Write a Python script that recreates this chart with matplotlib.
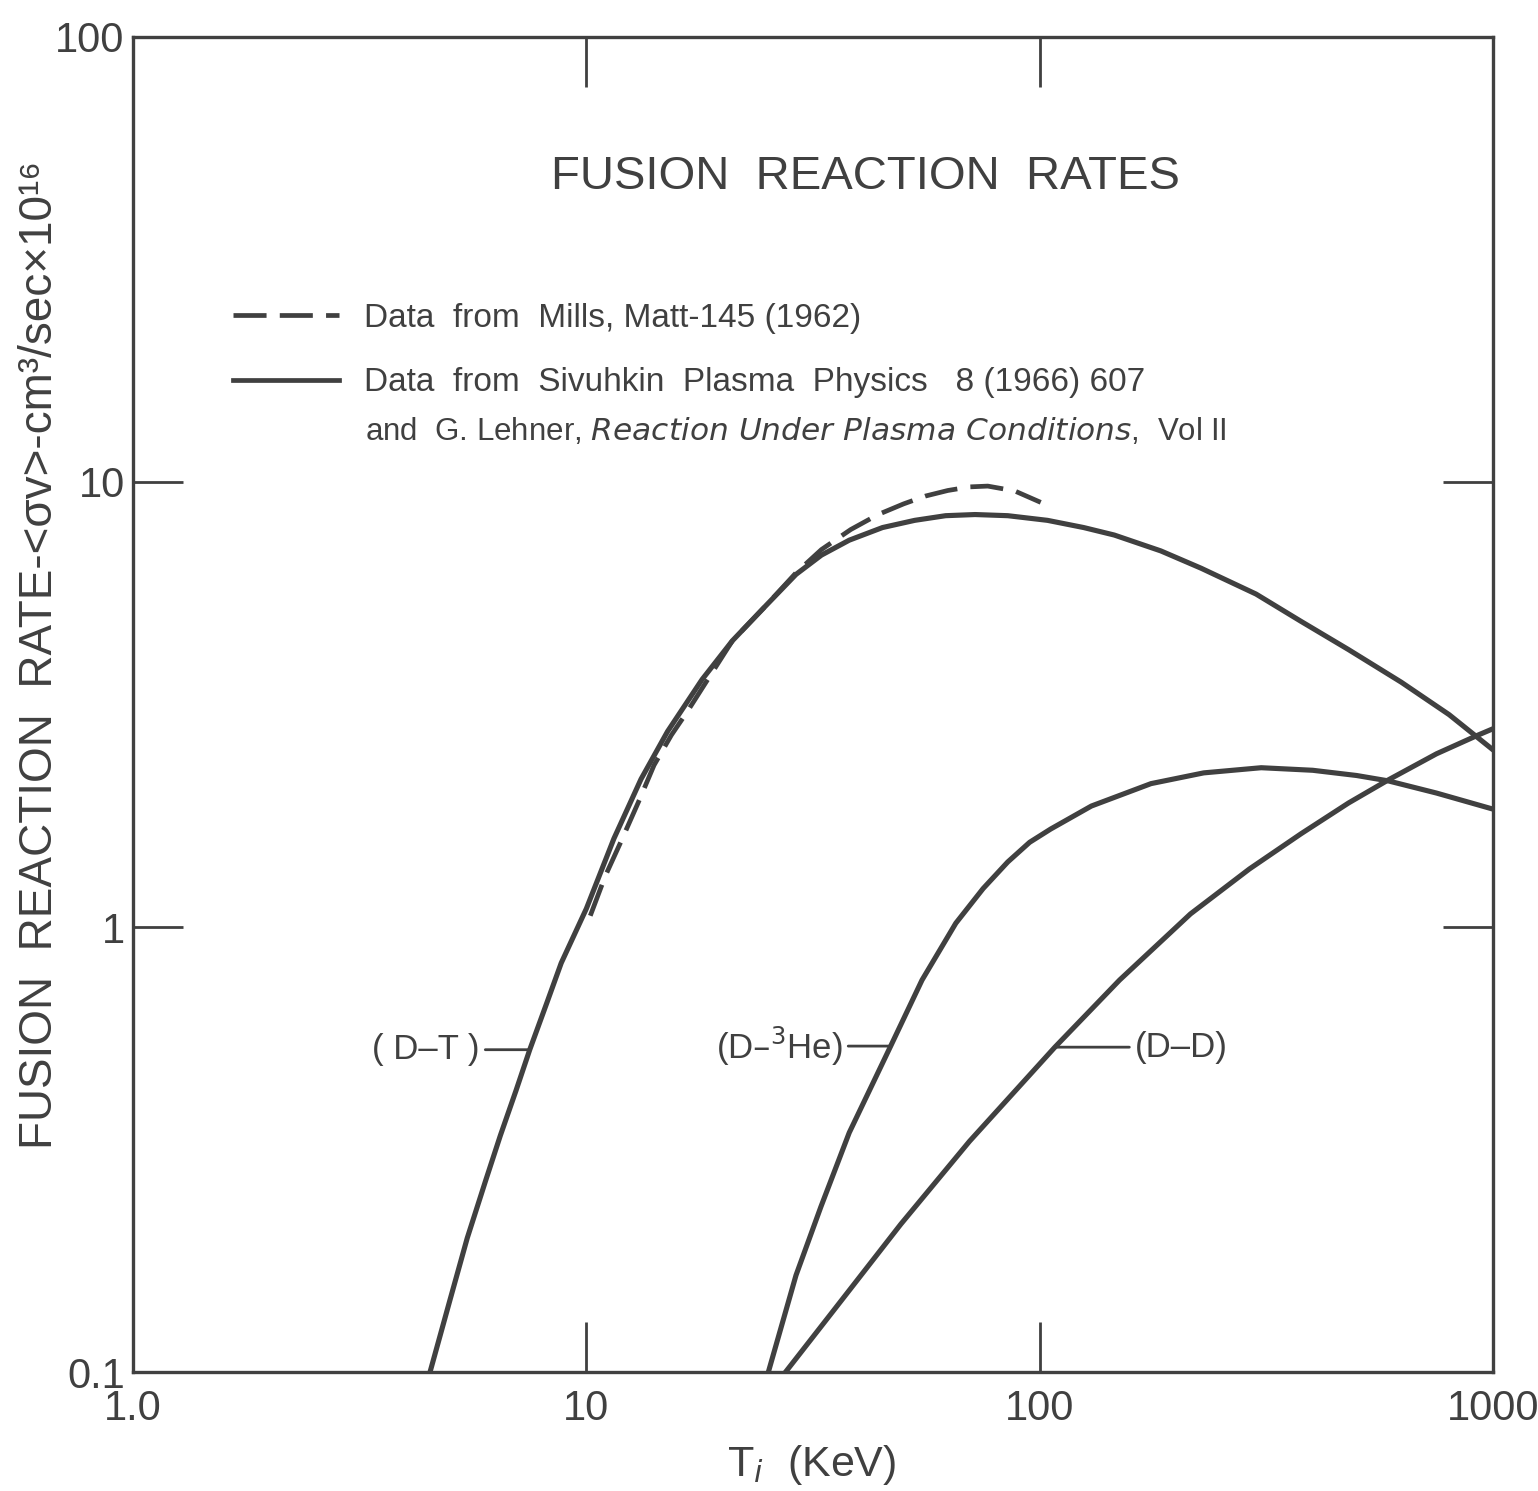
import matplotlib.pyplot as plt
from matplotlib.lines import Line2D

plt.rcParams['font.family'] = ['Liberation Sans', 'DejaVu Sans']
plt.rcParams['mathtext.fontset'] = 'dejavusans'

# Ti (keV) and <sigma v> (cm^3/sec x 10^16)
dt_t = [4.52, 5.0, 5.46, 6.0, 6.46, 7.0, 7.5, 8.2, 8.8, 10, 11.5, 13.2, 15.1, 18, 21, 25, 29, 33, 38,
        45, 53, 62, 72, 85, 104, 125, 146, 185, 227, 300, 376, 480, 627, 800, 1000]
dt_v = [0.1, 0.145, 0.2, 0.27, 0.34, 0.43, 0.53, 0.68, 0.83, 1.1, 1.58, 2.15, 2.75, 3.6, 4.4, 5.3, 6.2,
        6.85, 7.4, 7.9, 8.2, 8.4, 8.45, 8.4, 8.2, 7.9, 7.6, 7.0, 6.4, 5.6, 4.87, 4.2, 3.55, 3.0, 2.5]

mills_t = [10.2, 11.0, 11.9, 13, 14.1, 15.4, 16.7, 19, 21, 25, 29, 33, 38.3, 44, 50.1, 56, 62.7, 70,
           76.8, 88, 100.5]
mills_v = [1.06, 1.3, 1.55, 1.9, 2.31, 2.7, 3.05, 3.75, 4.4, 5.3, 6.25, 7.05, 7.82, 8.45, 8.93, 9.3,
           9.57, 9.75, 9.79, 9.55, 9.0]

dhe_t = [25.2, 29, 32.9, 38, 46.9, 55, 65.3, 75, 85, 95, 105.7, 130, 176, 230, 308, 400, 500, 587,
         750, 1000]
dhe_v = [0.1, 0.165, 0.235, 0.345, 0.54, 0.76, 1.02, 1.22, 1.40, 1.55, 1.66, 1.87, 2.1, 2.22, 2.28,
         2.25, 2.19, 2.13, 2.0, 1.84]

dd_t = [27.5, 35, 49.4, 70, 108, 150, 215, 290, 377, 480, 587, 750, 927, 1000]
dd_v = [0.1, 0.137, 0.215, 0.33, 0.537, 0.76, 1.07, 1.35, 1.62, 1.9, 2.14, 2.45, 2.70, 2.79]

xticks = [1, 10, 100, 1000]
xlabels = ['1.0', '10', '100', '1000']
yticks = [0.1, 1, 10, 100]
ylabels = ['0.1', '1', '10', '100']

ink = '#404040'

fig = plt.figure(figsize=(15.38, 14.91), dpi=100)
ax = fig.add_axes([0.0865, 0.0798, 0.8843, 0.8954])

ax.plot(dt_t, dt_v, color=ink, lw=3.7)
ax.plot(mills_t, mills_v, color=ink, lw=3.4, dashes=(7, 2.8))
ax.plot(dhe_t, dhe_v, color=ink, lw=3.7)
ax.plot(dd_t, dd_v, color=ink, lw=3.7)

ax.set_xscale('log')
ax.set_yscale('log')
ax.set_xlim(1, 1000)
ax.set_ylim(0.1, 100)
ax.set_xticks(xticks)
ax.set_xticklabels(xlabels)
ax.set_yticks(yticks)
ax.set_yticklabels(ylabels)
ax.minorticks_off()
ax.tick_params(direction='in', length=36, width=2, labelsize=30,
               colors=ink, top=True, right=True)
ax.tick_params(axis='y', pad=6)
ax.tick_params(axis='x', pad=12)
for s in ax.spines.values():
    s.set_linewidth(2.4)
    s.set_color(ink)

# curve labels with short leader lines
lab = dict(fontsize=25, color=ink, va='center',
           arrowprops=dict(arrowstyle='-', color=ink, lw=2, shrinkA=2, shrinkB=0))
i = dt_t.index(7.5)
ax.annotate('( D–T )', xy=(dt_t[i], dt_v[i]), xytext=(-50, 0),
            textcoords='offset pixels', ha='right', **lab)
i = dhe_t.index(46.9)
ax.annotate('(D–$^3$He)', xy=(dhe_t[i], dhe_v[i]), xytext=(-48, 0),
            textcoords='offset pixels', ha='right', **lab)
i = dd_t.index(108)
ax.annotate('(D–D)', xy=(dd_t[i], dd_v[i]), xytext=(80, 0),
            textcoords='offset pixels', ha='left', **lab)

# legend
handles = [Line2D([], [], color=ink, lw=3.4, dashes=(7, 2.8)),
           Line2D([], [], color=ink, lw=3.4)]
labels = ['Data  from  Mills, Matt-145 (1962)',
          'Data  from  Sivuhkin  Plasma  Physics   8 (1966) 607']
fig.legend(handles, labels, loc='upper left', bbox_to_anchor=(0.1405, 0.808),
           frameon=False, fontsize=24, handlelength=3.2, handletextpad=0.75,
           labelspacing=1.0, borderpad=0, labelcolor=ink)
fig.text(365 / 1538, 1 - 432 / 1491,
         r'and  G. Lehner, $\it{Reaction\ Under\ Plasma\ Conditions}$,  Vol II',
         fontsize=22.5, color=ink, ha='left', va='center')

fig.text(0.563, 1 - 177 / 1491, 'FUSION  REACTION  RATES', fontsize=34,
         color=ink, ha='center', va='center')
fig.text(0.026, 0.561, 'FUSION  REACTION  RATE-<σv>-cm³/sec×10¹⁶', fontsize=33,
         color=ink, rotation=90, ha='center', va='center')
fig.text(0.528, 1 - 1465 / 1491, r'T$_{\it i}$  (KeV)', fontsize=31,
         color=ink, ha='center', va='center')

fig.savefig('out.png', dpi=100)
